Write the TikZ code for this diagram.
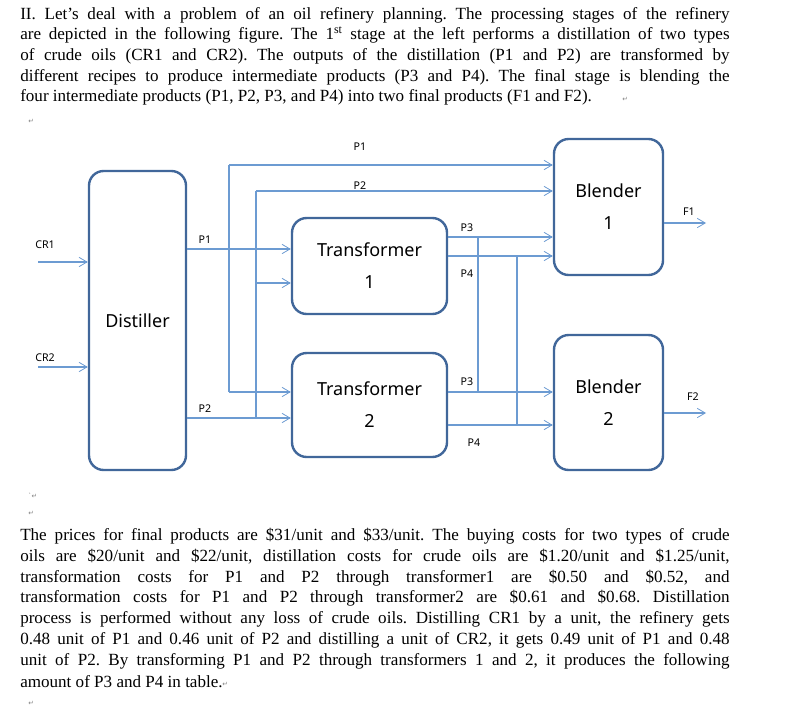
\documentclass[tikz,border=0pt]{standalone}
\usepackage{fontspec}
\setmainfont{Liberation Serif}
\newfontfamily\dg{Noto Sans}
\newfontfamily\dv{DejaVu Sans}
\usetikzlibrary{arrows.meta}
\definecolor{boxc}{HTML}{41679A}
\definecolor{linec}{HTML}{6C9BD2}
\frenchspacing
\begin{document}
\begin{tikzpicture}[x=0.75pt,y=-0.75pt,
  box/.style={draw=boxc,line width=1.8pt,rounded corners=11pt,inner sep=0pt,align=center,font=\dg\fontsize{13.5}{24}\selectfont},
  con/.style={draw=linec,line width=0.8pt},
  arr/.style={con,-{Straight Barb[length=6pt,width=7pt,line width=0.6pt]}},
  lab/.style={font=\dg\fontsize{8}{9}\selectfont,inner sep=0pt},
  tl/.style={anchor=west,inner sep=0pt,font=\fontsize{12.8}{14}\selectfont},
  mk/.style={anchor=west,inner sep=0pt,font=\dv\fontsize{5}{6}\selectfont,text=gray}]
\useasboundingbox (0,0) rectangle (798,706);
% top text
\node[tl] (t1) at (20,15) {\makebox[532pt][s]{II. Let’s deal with a problem of an oil refinery planning. The processing stages of the refinery}};
\node[tl] (t2) at (20,35) {\makebox[532pt][s]{are depicted in the following figure. The 1\textsuperscript{st} stage at the left performs a distillation of two types}};
\node[tl] (t3) at (20,56) {\makebox[532pt][s]{of crude oils (CR1 and CR2). The outputs of the distillation (P1 and P2) are transformed by}};
\node[tl] (t4) at (20,77) {\makebox[532pt][s]{different recipes to produce intermediate products (P3 and P4). The final stage is blending the}};
\node[tl] (t5) at (20,97) {four intermediate products (P1, P2, P3, and P4) into two final products (F1 and F2).};
\node[mk] (m1) at (622,99) {↵};
\node[mk] (m2) at (28,121) {↵};
% diagram
\node[box,minimum width=72.75pt,minimum height=224.25pt] (dist) at (137.5,320.5) {Distiller};
\node[box,minimum width=116.25pt,minimum height=72pt] (tr1) at (369.5,266) {Transformer\\1};
\node[box,minimum width=116.25pt,minimum height=78pt] (tr2) at (369.5,405) {Transformer\\2};
\node[box,minimum width=81.75pt,minimum height=102pt] (bl1) at (608.5,207) {Blender\\1};
\node[box,minimum width=81.75pt,minimum height=101.25pt] (bl2) at (608.5,402.5) {Blender\\2};
% inputs
\coordinate (c1) at (38,262);
\coordinate (c2) at (38,367);
\draw[arr] (c1) -- (c1 -| dist.west);
\draw[arr] (c2) -- (c2 -| dist.west);
\node[lab] (lc1) at (45,245) {CR1};
\node[lab] (lc2) at (45,358) {CR2};
% distiller outputs
\coordinate (j1) at (229,249);
\coordinate (j2) at (256,418);
\coordinate (j1t) at (229,165);
\coordinate (j2t) at (256,191);
\coordinate (j1b) at (229,392);
\coordinate (j2m) at (256,283);
\draw[arr] (dist.east |- j1) -- (j1 -| tr1.west);
\draw[arr] (dist.east |- j2) -- (j2 -| tr2.west);
\draw[con] (j1b) -- (j1t);
\draw[con] (j2) -- (j2t);
\draw[arr] (j1t) -- (j1t -| bl1.west);
\draw[arr] (j2t) -- (j2t -| bl1.west);
\draw[arr] (j1b) -- (j1b -| tr2.west);
\draw[arr] (j2m) -- (j2m -| tr1.west);
\node[lab] (lp1a) at (205,240) {P1};
\node[lab] (lp2a) at (205,409) {P2};
\node[lab] (lp1b) at (360,147) {P1};
\node[lab] (lp2b) at (360,186) {P2};
% transformer outputs
\coordinate (k1) at (478,237);
\coordinate (k2) at (517,256);
\coordinate (k3) at (478,392);
\coordinate (k4) at (517,425);
\draw[arr] (tr1.east |- k1) -- (k1 -| bl1.west);
\draw[arr] (tr1.east |- k2) -- (k2 -| bl1.west);
\draw[arr] (tr2.east |- k3) -- (k3 -| bl2.west);
\draw[arr] (tr2.east |- k4) -- (k4 -| bl2.west);
\draw[con] (k1) -- (k3);
\draw[con] (k2) -- (k4);
\node[lab] (lp3a) at (467,228) {P3};
\node[lab] (lp4a) at (467,274) {P4};
\node[lab] (lp3b) at (467,382) {P3};
\node[lab] (lp4b) at (474,443) {P4};
% final
\coordinate (f1) at (706,223);
\coordinate (f2) at (706,413);
\draw[arr] (bl1.east |- f1) -- (f1);
\draw[arr] (bl2.east |- f2) -- (f2);
\node[lab] (lf1) at (689,212) {F1};
\node[lab] (lf2) at (693,397) {F2};
% bottom text
\node[mk] (m3) at (28,496) {`↵};
\node[mk] (m4) at (28,513) {↵};
\node[tl] (b1) at (20,536) {\makebox[532pt][s]{The prices for final products are \$31/unit and \$33/unit. The buying costs for two types of crude}};
\node[tl] (b2) at (20,557) {\makebox[532pt][s]{oils are \$20/unit and \$22/unit, distillation costs for crude oils are \$1.20/unit and \$1.25/unit,}};
\node[tl] (b3) at (20,578) {\makebox[532pt][s]{transformation costs for P1 and P2 through transformer1 are \$0.50 and \$0.52, and}};
\node[tl] (b4) at (20,598) {\makebox[532pt][s]{transformation costs for P1 and P2 through transformer2 are \$0.61 and \$0.68. Distillation}};
\node[tl] (b5) at (20,619) {\makebox[532pt][s]{process is performed without any loss of crude oils. Distilling CR1 by a unit, the refinery gets}};
\node[tl] (b6) at (20,640) {\makebox[532pt][s]{0.48 unit of P1 and 0.46 unit of P2 and distilling a unit of CR2, it gets 0.49 unit of P1 and 0.48}};
\node[tl] (b7) at (20,661) {\makebox[532pt][s]{unit of P2. By transforming P1 and P2 through transformers 1 and 2, it produces the following}};
\node[tl] (b8) at (20,682) {amount of P3 and P4 in table.};
\node[mk] (m5) at (222,684) {↵};
\node[mk] (m6) at (28,703) {↵};
\end{tikzpicture}
\end{document}
